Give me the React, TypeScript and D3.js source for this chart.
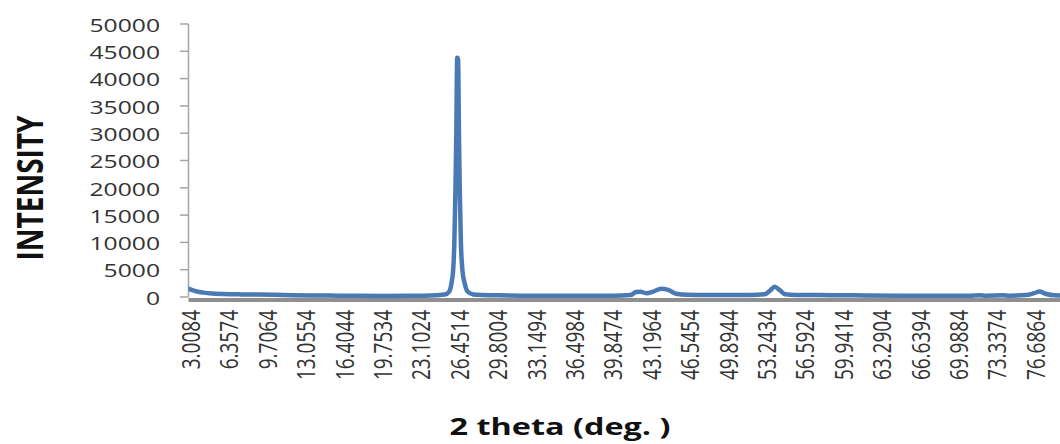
import React from "react";
import * as d3 from "d3";

const twoTheta = [
  3.0, 3.3, 3.7, 4.3, 5.0, 6.0, 7.5, 9.0, 10.5, 12.0, 14.0, 16.0, 18.0, 20.0, 22.0, 23.5,
  24.5, 25.3, 25.7, 25.9, 26.05, 26.15, 26.25, 26.32, 26.4, 26.48, 26.55, 26.62, 26.72, 26.85,
  27.05, 27.3, 27.8, 28.5, 30.0, 32.0, 35.0, 38.0, 40.0, 41.5, 42.0, 42.4, 42.9, 43.5, 44.2,
  44.8, 45.5, 46.5, 48.0, 50.0, 52.0, 53.2, 53.7, 54.1, 54.5, 55.0, 56.0, 58.0, 60.0, 62.0,
  65.0, 68.0, 71.0, 72.0, 72.5, 74.0, 74.5, 76.0, 76.7, 77.2, 77.7, 78.5, 80.0,
];
const intensity = [
  1500, 1250, 1000, 800, 650, 550, 480, 450, 400, 330, 280, 250, 220, 200, 220, 250,
  320, 450, 1000, 2500, 5000, 10000, 20000, 30000, 43800, 43500, 30000, 20000, 10000, 5000,
  2500, 1000, 450, 350, 300, 250, 220, 220, 230, 350, 900, 950, 700, 1000, 1500,
  1300, 600, 400, 350, 350, 380, 500, 1200, 1900, 1300, 500, 380, 350, 330, 280,
  250, 250, 250, 320, 250, 300, 250, 350, 700, 1000, 600, 300, 250,
];
const xTickLabels = [
  "3.0084", "6.3574", "9.7064", "13.0554", "16.4044", "19.7534", "23.1024", "26.4514",
  "29.8004", "33.1494", "36.4984", "39.8474", "43.1964", "46.5454", "49.8944", "53.2434",
  "56.5924", "59.9414", "63.2904", "66.6394", "69.9884", "73.3374", "76.6864",
];
const yTicks = [0, 5000, 10000, 15000, 20000, 25000, 30000, 35000, 40000, 45000, 50000];

const W = 1060;
const H = 444;
const axisX = 188.5;
const x0 = 189;
const labelStep = 38.4; // px between labelled categories
const firstLabel = 3.0084;
const labelDelta = 3.349;

export default function App() {
  const x = d3
    .scaleLinear()
    .domain([firstLabel, firstLabel + labelDelta])
    .range([x0, x0 + labelStep]);
  const y = d3.scaleLinear().domain([0, 50000]).range([297, 24]);
  const pts: [number, number][] = twoTheta.map((t, i) => [t, intensity[i]]);
  const line = d3
    .line<[number, number]>()
    .x((d) => x(d[0]))
    .y((d) => y(d[1]))
    .curve(d3.curveMonotoneX);

  const font = "'Open Sans', sans-serif";
  const sx = 1.3;

  return (
    <svg
      width={W}
      height={H}
      style={{ position: "absolute", left: 0, top: 0, background: "#fff" }}
    >
      <defs>
        <clipPath id="plot">
          <rect x={axisX} y={0} width={W - axisX} height={310} />
        </clipPath>
      </defs>
      {/* y axis */}
      <line x1={axisX} x2={axisX} y1={y(50000)} y2={y(0)} stroke="#a6a6a6" strokeWidth={1.5} />
      {yTicks.map((t) => (
        <g key={t}>
          <line x1={180} x2={axisX} y1={y(t)} y2={y(t)} stroke="#a6a6a6" strokeWidth={1.5} />
          <text
            transform={`translate(160,${y(t)}) scale(${sx},1)`}
            textAnchor="end"
            dominantBaseline="central"
            fontFamily={font}
            fontSize={19}
            fill="#333"
          >
            {t}
          </text>
        </g>
      ))}
      {/* category axis line */}
      <line x1={axisX} x2={W} y1={300} y2={300} stroke="#8f8f8f" strokeWidth={4} />
      {/* data line */}
      <path
        d={line(pts) || ""}
        fill="none"
        stroke="#4a7ab4"
        strokeWidth={4.5}
        strokeLinejoin="round"
        strokeLinecap="round"
        clipPath="url(#plot)"
      />
      {/* x tick labels */}
      {xTickLabels.map((l, i) => (
        <text
          key={l}
          transform={`translate(${x(firstLabel + i * labelDelta) + 1},310) scale(${sx},1) rotate(-90)`}
          textAnchor="end"
          dominantBaseline="central"
          fontFamily={font}
          fontSize={19}
          fill="#333"
        >
          {l}
        </text>
      ))}
      {/* y title */}
      <text
        transform={`translate(29,188) scale(${sx},1) rotate(-90)`}
        textAnchor="middle"
        dominantBaseline="central"
        fontFamily={font}
        fontWeight={700}
        fontSize={28}
        fill="#111"
      >
        INTENSITY
      </text>
      {/* x title */}
      <text
        transform={`translate(560,435) scale(1.35,1)`}
        textAnchor="middle"
        fontFamily={font}
        fontWeight={700}
        fontSize={24}
        fill="#111"
      >
        2 theta (deg. )
      </text>
    </svg>
  );
}
